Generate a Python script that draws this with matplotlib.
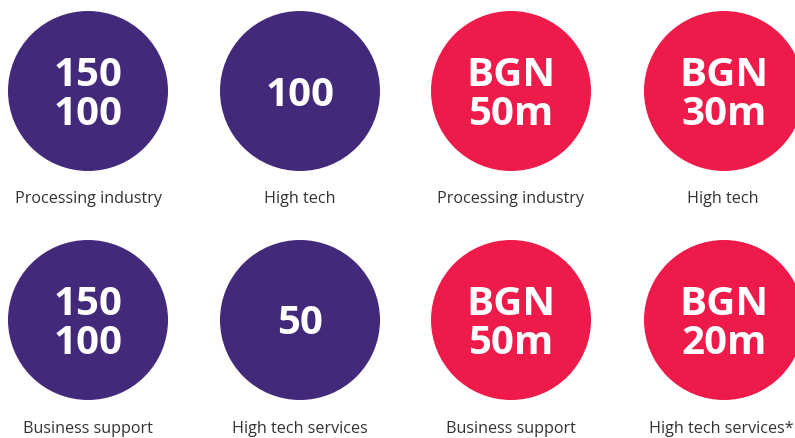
import matplotlib.pyplot as plt
from matplotlib.patches import Circle

# ── data ─────────────────────────────────────────────────────────────────────
top_labels = ["Processing industry", "High tech", "Processing industry", "High tech"]
top_values = ["150\n100", "100", "BGN\n50m", "BGN\n30m"]
bottom_labels = ["Business support", "High tech services", "Business support", "High tech services*"]
bottom_values = ["150\n100", "50", "BGN\n50m", "BGN\n20m"]

purple = "#43297A"
red = "#EE1B4A"
col_colors = [purple, purple, red, red]

W, H = 795, 439
fig = plt.figure(figsize=(W / 100, H / 100), dpi=100)
ax = fig.add_axes([0, 0, 1, 1])
ax.set_xlim(0, W)
ax.set_ylim(H, 0)
ax.set_aspect("equal")
ax.axis("off")

xs = [88, 300, 511, 724]
r = 80
rows = [
    (92, 199, top_values, top_labels, [88, 300, 511, 723]),
    (321, 429, bottom_values, bottom_labels, [88, 300, 511, 721]),
]

for cy, ly, values, labels, label_xs in rows:
    for cx, lx, val, lab, c in zip(xs, label_xs, values, labels, col_colors):
        ax.add_patch(Circle((cx, cy), r, color=c, lw=0))
        ax.text(cx, cy + 3, val, ha="center", va="center", color="white",
                fontsize=29, fontweight="bold", family="Open Sans",
                linespacing=0.98)
        ax.text(lx, ly, lab, ha="center", va="center", color="#333333",
                fontsize=11.6, family="Open Sans")

fig.savefig("out.png", dpi=100)
